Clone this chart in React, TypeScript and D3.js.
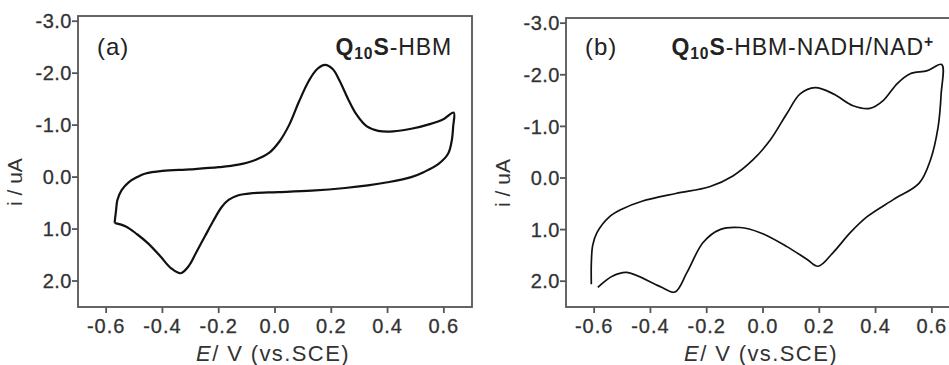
import React, { useEffect, useRef } from 'react';
import * as d3 from 'd3';

// E (V vs. SCE), i (uA)
const cvA: [number, number][] = [
  [-0.57, 0.88], [-0.565, 0.65], [-0.56, 0.44], [-0.545, 0.25], [-0.52, 0.1], [-0.49, 0.0],
  [-0.46, -0.07], [-0.4, -0.12], [-0.3, -0.15], [-0.2, -0.19], [-0.13, -0.24], [-0.07, -0.33],
  [-0.02, -0.47], [0.015, -0.68], [0.05, -1.0], [0.085, -1.45], [0.12, -1.85], [0.15, -2.08],
  [0.178, -2.16], [0.205, -2.08], [0.23, -1.85], [0.26, -1.5], [0.29, -1.2], [0.325, -0.98],
  [0.367, -0.89], [0.42, -0.88], [0.484, -0.93], [0.55, -1.02], [0.6, -1.12], [0.635, -1.24],
  [0.633, -0.97], [0.628, -0.7], [0.615, -0.45], [0.58, -0.25], [0.53, -0.1], [0.484, 0.0],
  [0.4, 0.1], [0.33, 0.16], [0.249, 0.21], [0.13, 0.26], [0.01, 0.29], [-0.08, 0.31],
  [-0.13, 0.35], [-0.165, 0.44], [-0.19, 0.58], [-0.22, 0.85], [-0.25, 1.15], [-0.28, 1.45],
  [-0.305, 1.7], [-0.335, 1.85], [-0.37, 1.75], [-0.405, 1.54], [-0.45, 1.28], [-0.49, 1.1],
  [-0.53, 0.95], [-0.57, 0.88]
];

const cvB: [number, number][] = [
  [-0.61, 2.06], [-0.61, 1.65], [-0.605, 1.3], [-0.59, 1.06], [-0.545, 0.75], [-0.5, 0.6],
  [-0.43, 0.45], [-0.31, 0.3], [-0.19, 0.17], [-0.107, -0.04], [-0.036, -0.35], [0.025, -0.73],
  [0.085, -1.25], [0.132, -1.63], [0.185, -1.75], [0.25, -1.63], [0.32, -1.4], [0.38, -1.35],
  [0.427, -1.5], [0.477, -1.83], [0.523, -2.02], [0.584, -2.08], [0.635, -2.2],
  [0.633, -1.63], [0.622, -0.98], [0.595, -0.35], [0.555, 0.1], [0.463, 0.42], [0.37, 0.75],
  [0.31, 1.06], [0.25, 1.44], [0.196, 1.71], [0.157, 1.58], [0.085, 1.33], [-0.01, 1.06],
  [-0.082, 0.96], [-0.153, 1.0], [-0.213, 1.25], [-0.27, 1.83], [-0.313, 2.21], [-0.367, 2.1],
  [-0.484, 1.83], [-0.534, 1.9], [-0.587, 2.12]
];

const xTicks = [-0.6, -0.4, -0.2, 0.0, 0.2, 0.4, 0.6];
const yTicks = [-3, -2, -1, 0, 1, 2];

const App: React.FC = () => {
  const ref = useRef<SVGSVGElement | null>(null);

  useEffect(() => {
    const svg = d3.select(ref.current);
    svg.selectAll('*').remove();
    const font = 'Liberation Sans, Arial, sans-serif';

    const panels = [
      { data: cvA, left: 78, right: 472, top: 16, bottom: 307, lw: 2.2, tag: '(a)', title: '-HBM', sup: '', titleX: 452, tagX: 97, titleSize: 23 },
      { data: cvB, left: 566, right: 960, top: 18, bottom: 307, lw: 1.7, tag: '(b)', title: '-HBM-NADH/NAD', sup: '+', titleX: 934, tagX: 585, titleSize: 23 }
    ];

    panels.forEach(p => {
      const x = d3.scaleLinear().domain([-0.7, 0.7]).range([p.left, p.right]);
      const y = d3.scaleLinear().domain([2.5, -3.1]).range([p.bottom, p.top]);
      const g = svg.append('g');

      // frame
      g.append('rect')
        .attr('x', p.left).attr('y', p.top)
        .attr('width', p.right - p.left).attr('height', p.bottom - p.top)
        .attr('fill', 'none').attr('stroke', '#555').attr('stroke-width', 1.8);

      // x ticks
      xTicks.forEach(t => {
        g.append('line')
          .attr('x1', x(t)).attr('x2', x(t))
          .attr('y1', p.bottom).attr('y2', p.bottom + 6)
          .attr('stroke', '#555').attr('stroke-width', 1.8);
        g.append('text')
          .attr('x', x(t)).attr('y', p.bottom + 26)
          .attr('text-anchor', 'middle')
          .style('font-family', font).style('font-size', '20px')
          .style('letter-spacing', '1px').attr('fill', '#333')
          .attr('stroke', '#333').attr('stroke-width', 0.3)
          .text(t.toFixed(1));
      });

      // y ticks
      yTicks.forEach(t => {
        g.append('line')
          .attr('x1', p.left - 6).attr('x2', p.left)
          .attr('y1', y(t)).attr('y2', y(t))
          .attr('stroke', '#555').attr('stroke-width', 1.8);
        g.append('text')
          .attr('x', p.left - 6).attr('y', y(t))
          .attr('dy', '0.36em')
          .attr('text-anchor', 'end')
          .style('font-family', font).style('font-size', '20px')
          .style('letter-spacing', '0.5px').attr('fill', '#333')
          .attr('stroke', '#333').attr('stroke-width', 0.3)
          .text(t.toFixed(1));
      });

      // axis labels
      const xl = g.append('text')
        .attr('x', x(0) - 2).attr('y', 361)
        .attr('text-anchor', 'middle')
        .style('font-family', font).style('font-size', '22px')
        .style('letter-spacing', '1.4px').attr('fill', '#333');
      xl.append('tspan').style('font-style', 'italic').text('E');
      xl.append('tspan').text('/ V (vs.SCE)');

      g.append('text')
        .attr('transform', `translate(${p.left - 56},${y(0) + 5}) rotate(-90)`)
        .attr('text-anchor', 'middle')
        .style('font-family', font).style('font-size', '21px')
        .attr('fill', '#333')
        .text('i / uA');

      // panel tag
      g.append('text')
        .attr('x', p.tagX).attr('y', 55)
        .style('font-family', font).style('font-size', '24px')
        .style('letter-spacing', '1px').attr('fill', '#222')
        .text(p.tag);

      // title
      const fs = p.titleSize;
      const tt = g.append('text')
        .attr('x', p.titleX).attr('y', 55)
        .attr('text-anchor', 'end')
        .style('font-family', font).style('font-size', `${fs}px`)
        .style('letter-spacing', '0.9px')
        .attr('fill', '#222');
      tt.append('tspan').style('font-weight', 'bold').text('Q');
      tt.append('tspan').style('font-weight', 'bold').style('font-size', `${fs * 0.68}px`).attr('dy', 4).text('10');
      tt.append('tspan').style('font-weight', 'bold').attr('dy', -4).text('S');
      tt.append('tspan').text(p.title);
      if (p.sup) {
        tt.append('tspan').style('font-weight', 'bold').style('font-size', `${fs * 0.68}px`).attr('dy', -8).text(p.sup);
      }

      // CV curve
      const line = d3.line<[number, number]>()
        .x(d => x(d[0]))
        .y(d => y(d[1]))
        .curve(d3.curveCatmullRom.alpha(0.5));
      g.append('path')
        .datum(p.data)
        .attr('d', line)
        .attr('fill', 'none')
        .attr('stroke', '#111')
        .attr('stroke-width', p.lw)
        .attr('stroke-linejoin', 'round');
    });
  }, []);

  return (
    <svg ref={ref} width={949} height={365}
      style={{ position: 'absolute', left: 0, top: 0, background: '#fff' }} />
  );
};

export default App;
